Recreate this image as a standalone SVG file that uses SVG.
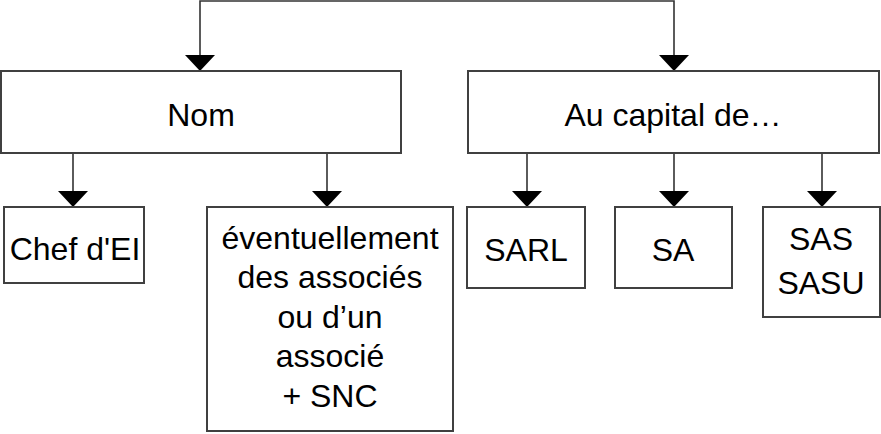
<svg xmlns="http://www.w3.org/2000/svg" width="881" height="434" viewBox="0 0 881 434">
<style>
.box{fill:#fff;stroke:#404040;stroke-width:2}
.c{fill:none;stroke:#333;stroke-width:1.6}
text{font-family:"Liberation Sans",Arial,sans-serif;font-size:32px;fill:#000;text-anchor:middle}
</style>
<defs>
<marker id="ah" markerUnits="userSpaceOnUse" viewBox="0 0 16 30" refX="16" refY="15" markerWidth="16" markerHeight="30" orient="auto">
<path d="M0,0 L16,15 L0,30 z" fill="#000"/>
</marker>
</defs>
<g id="connectors">
<path class="c" d="M200,71 V1 H674 V71" marker-end="url(#ah)"/>
<path d="M185,55 L215,55 L200,71 z" fill="#000"/>
<path class="c" d="M73,153 V207" marker-end="url(#ah)"/>
<path class="c" d="M327,153 V207" marker-end="url(#ah)"/>
<path class="c" d="M527,153 V207" marker-end="url(#ah)"/>
<path class="c" d="M674,153 V207" marker-end="url(#ah)"/>
<path class="c" d="M822,153 V207" marker-end="url(#ah)"/>
</g>
<g id="nom"><rect class="box" x="1" y="71" width="400" height="82"/><text x="201" y="126">Nom</text></g>
<g id="capital"><rect class="box" x="468" y="71" width="411" height="82"/><text x="673" y="126">Au capital de…</text></g>
<g id="chef"><rect class="box" x="4" y="207" width="140" height="76"/><text x="75" y="260">Chef d'EI</text></g>
<g id="associes"><rect class="box" x="207" y="207" width="246" height="224"/>
<text x="330" y="249">éventuellement</text>
<text x="330" y="288">des associés</text>
<text x="330" y="328">ou d’un</text>
<text x="330" y="367">associé</text>
<text x="330" y="407">+ SNC</text></g>
<g id="sarl"><rect class="box" x="467" y="207" width="118" height="81"/><text x="526" y="261">SARL</text></g>
<g id="sa"><rect class="box" x="615" y="207" width="117" height="81"/><text x="673" y="261">SA</text></g>
<g id="sas"><rect class="box" x="763" y="207" width="117" height="110"/><text x="821" y="250">SAS</text><text x="821" y="294">SASU</text></g>
</svg>
